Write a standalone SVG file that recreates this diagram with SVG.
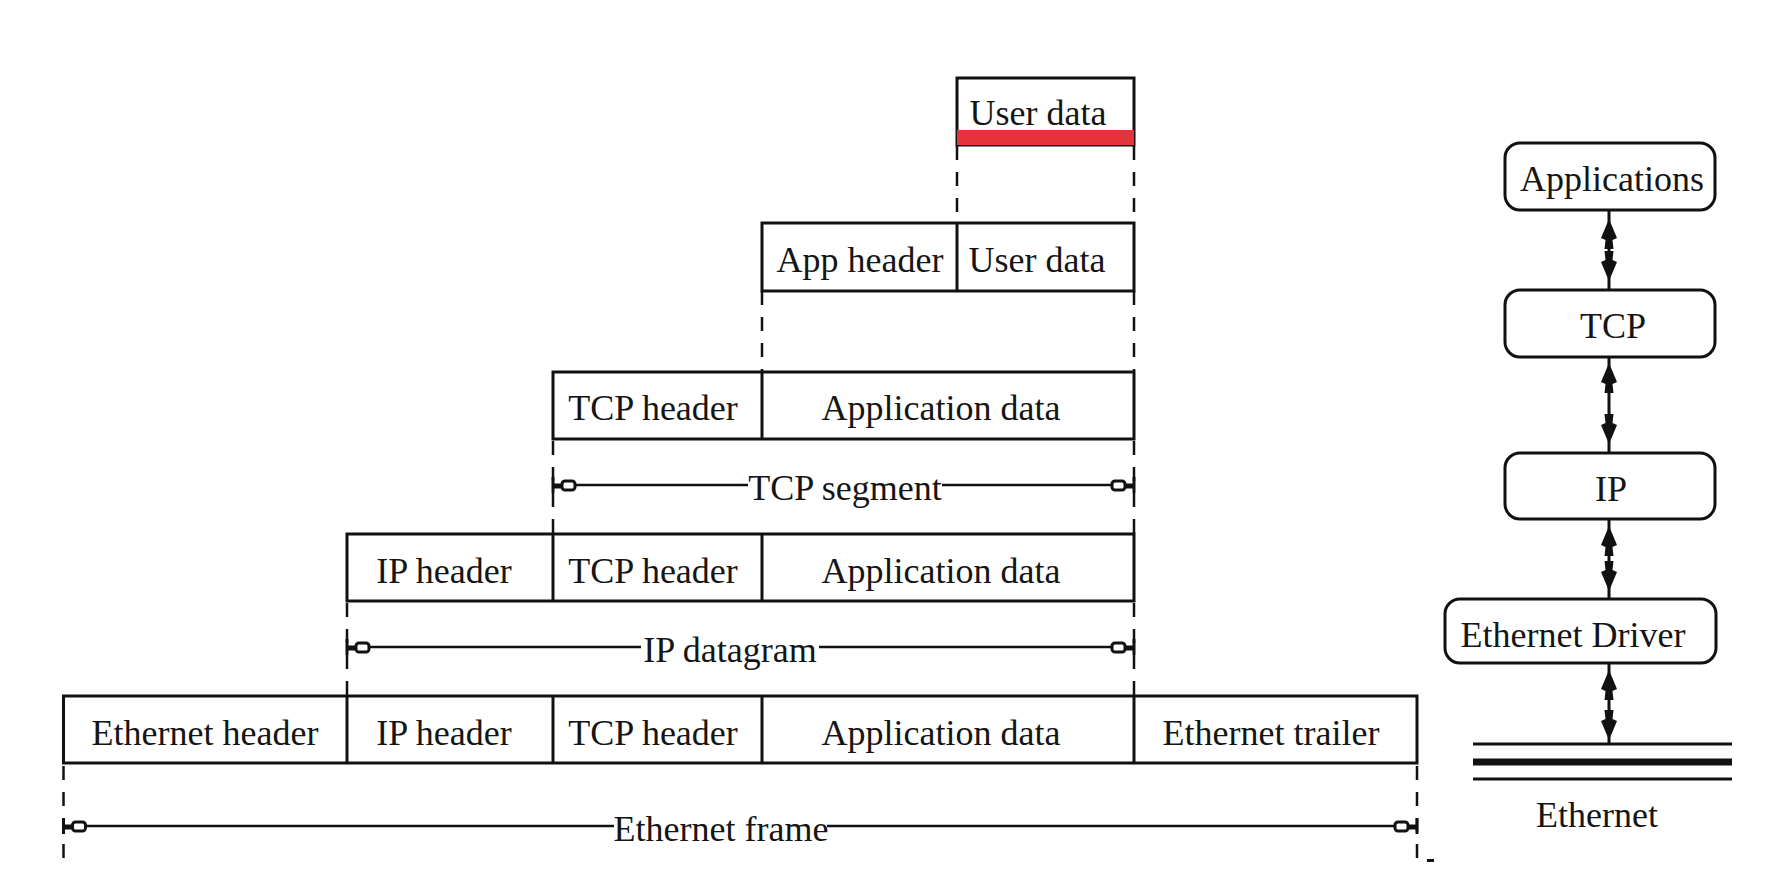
<svg xmlns="http://www.w3.org/2000/svg" xmlns:xlink="http://www.w3.org/1999/xlink" width="1778" height="880" viewBox="0 0 1778 880">
<style>
  .cell { fill: #fff; stroke: #111; stroke-width: 3; }
  .div { stroke: #111; stroke-width: 3; }
  .lbl { font-family: "Liberation Serif", "Times New Roman", serif; font-size: 36px; fill: #151515; text-anchor: middle; }
  .dash { stroke: #111; stroke-width: 2.5; stroke-dasharray: 14 12; fill: none; }
  .dim { stroke: #111; stroke-width: 2.5; fill: none; }
  .layer { fill: #fff; stroke: #111; stroke-width: 3; }
  .conn { stroke: #111; stroke-width: 3; fill: none; }
  .net { stroke: #111; fill: none; }
</style>
<defs>
  <g id="dimL">
    <line x1="0" y1="-8" x2="0" y2="8" stroke="#111" stroke-width="3"/>
    <line x1="0" y1="1" x2="10" y2="1" stroke="#111" stroke-width="5"/>
    <rect x="9" y="-4" width="13" height="9" rx="3" fill="none" stroke="#111" stroke-width="3"/>
  </g>
  <g id="dimR">
    <use xlink:href="#dimL" transform="scale(-1,1)"/>
  </g>
  <path id="headUp" d="M0,0 L8,19 L3.5,21 L4.5,30 L-4.5,30 L-3.5,21 L-8,19 Z" fill="#111"/>
  <path id="headDown" d="M0,0 L8,-19 L3.5,-21 L4.5,-30 L-4.5,-30 L-3.5,-21 L-8,-19 Z" fill="#111"/>
</defs>
<rect width="1778" height="880" fill="#fff"/>

<!-- Connectors -->
<g id="connectors">
  <!-- dashed alignment guides -->
  <line class="dash" x1="957" y1="146" x2="957" y2="223"/>
  <line class="dash" x1="1134" y1="146" x2="1134" y2="223"/>
  <line class="dash" x1="762" y1="291" x2="762" y2="371"/>
  <line class="dash" x1="1134" y1="291" x2="1134" y2="371"/>
  <line class="dash" x1="553" y1="441" x2="553" y2="534"/>
  <line class="dash" x1="1134" y1="441" x2="1134" y2="534"/>
  <line class="dash" x1="347" y1="603" x2="347" y2="696"/>
  <line class="dash" x1="1134" y1="603" x2="1134" y2="696"/>
  <line class="dash" x1="63.5" y1="766" x2="63.5" y2="866"/>
  <line class="dash" x1="1417" y1="766" x2="1417" y2="862"/>
  <line x1="1427" y1="860.5" x2="1434" y2="860.5" stroke="#111" stroke-width="3"/>

  <!-- TCP segment dimension -->
  <line class="dim" x1="575" y1="485" x2="748" y2="485"/>
  <line class="dim" x1="942" y1="485" x2="1112" y2="485"/>
  <use xlink:href="#dimL" x="553" y="485"/>
  <use xlink:href="#dimR" transform="translate(1134,485)"/>
  <text class="lbl" x="845" y="500">TCP segment</text>

  <!-- IP datagram dimension -->
  <line class="dim" x1="369" y1="647" x2="641" y2="647"/>
  <line class="dim" x1="819" y1="647" x2="1112" y2="647"/>
  <use xlink:href="#dimL" x="347" y="647"/>
  <use xlink:href="#dimR" transform="translate(1134,647)"/>
  <text class="lbl" x="730" y="662">IP datagram</text>

  <!-- Ethernet frame dimension -->
  <line class="dim" x1="85" y1="826" x2="614" y2="826"/>
  <line class="dim" x1="827" y1="826" x2="1395" y2="826"/>
  <use xlink:href="#dimL" x="63.5" y="826"/>
  <use xlink:href="#dimR" transform="translate(1417,826)"/>
  <text class="lbl" x="721" y="841">Ethernet frame</text>

  <!-- protocol stack connectors -->
  <line class="conn" x1="1609" y1="210" x2="1609" y2="290"/>
  <use xlink:href="#headUp" x="1609" y="219"/>
  <use xlink:href="#headDown" x="1609" y="281"/>
  <line class="conn" x1="1609" y1="357" x2="1609" y2="453"/>
  <use xlink:href="#headUp" x="1609" y="363"/>
  <use xlink:href="#headDown" x="1609" y="444"/>
  <line class="conn" x1="1609" y1="519" x2="1609" y2="599"/>
  <use xlink:href="#headUp" x="1609" y="526"/>
  <use xlink:href="#headDown" x="1609" y="591"/>
  <line class="conn" x1="1609" y1="663" x2="1609" y2="744"/>
  <use xlink:href="#headUp" x="1609" y="670"/>
  <use xlink:href="#headDown" x="1609" y="740"/>
</g>

<!-- Packet rows -->
<g id="row-user-data">
  <rect class="cell" x="957" y="78" width="177" height="67"/>
  <rect x="957" y="130" width="177" height="15" fill="#e4333b"/>
  <text class="lbl" x="1038" y="125">User data</text>
</g>

<g id="row-app">
  <rect class="cell" x="762" y="223" width="372" height="68"/>
  <line class="div" x1="957" y1="223" x2="957" y2="291"/>
  <text class="lbl" x="860" y="272">App header</text>
  <text class="lbl" x="1037" y="272">User data</text>
</g>

<g id="row-tcp">
  <rect class="cell" x="553" y="372" width="581" height="67"/>
  <line class="div" x1="762" y1="372" x2="762" y2="439"/>
  <text class="lbl" x="653" y="420">TCP header</text>
  <text class="lbl" x="941" y="420">Application data</text>
</g>

<g id="row-ip">
  <rect class="cell" x="347" y="534" width="787" height="67"/>
  <line class="div" x1="553" y1="534" x2="553" y2="601"/>
  <line class="div" x1="762" y1="534" x2="762" y2="601"/>
  <text class="lbl" x="444" y="583">IP header</text>
  <text class="lbl" x="653" y="583">TCP header</text>
  <text class="lbl" x="941" y="583">Application data</text>
</g>

<g id="row-ethernet">
  <rect class="cell" x="63.5" y="696" width="1353.5" height="67"/>
  <line class="div" x1="347" y1="696" x2="347" y2="763"/>
  <line class="div" x1="553" y1="696" x2="553" y2="763"/>
  <line class="div" x1="762" y1="696" x2="762" y2="763"/>
  <line class="div" x1="1134" y1="696" x2="1134" y2="763"/>
  <text class="lbl" x="205" y="745">Ethernet header</text>
  <text class="lbl" x="444" y="745">IP header</text>
  <text class="lbl" x="653" y="745">TCP header</text>
  <text class="lbl" x="941" y="745">Application data</text>
  <text class="lbl" x="1271" y="745">Ethernet trailer</text>
</g>

<!-- Protocol stack -->
<g id="layer-applications">
  <rect class="layer" x="1505" y="143" width="210" height="67" rx="15"/>
  <text class="lbl" x="1612" y="191">Applications</text>
</g>
<g id="layer-tcp">
  <rect class="layer" x="1505" y="290" width="210" height="67" rx="15"/>
  <text class="lbl" x="1613" y="338">TCP</text>
</g>
<g id="layer-ip">
  <rect class="layer" x="1505" y="453" width="210" height="66" rx="15"/>
  <text class="lbl" x="1611" y="501">IP</text>
</g>
<g id="layer-ethernet-driver">
  <rect class="layer" x="1445" y="599" width="271" height="64" rx="15"/>
  <text class="lbl" x="1573" y="647">Ethernet Driver</text>
</g>
<g id="ethernet-bus">
  <line class="net" x1="1473" y1="744" x2="1732" y2="744" stroke-width="3"/>
  <line class="net" x1="1473" y1="762" x2="1732" y2="762" stroke-width="7"/>
  <line class="net" x1="1473" y1="779" x2="1732" y2="779" stroke-width="3"/>
  <text class="lbl" x="1597" y="827">Ethernet</text>
</g>
</svg>
